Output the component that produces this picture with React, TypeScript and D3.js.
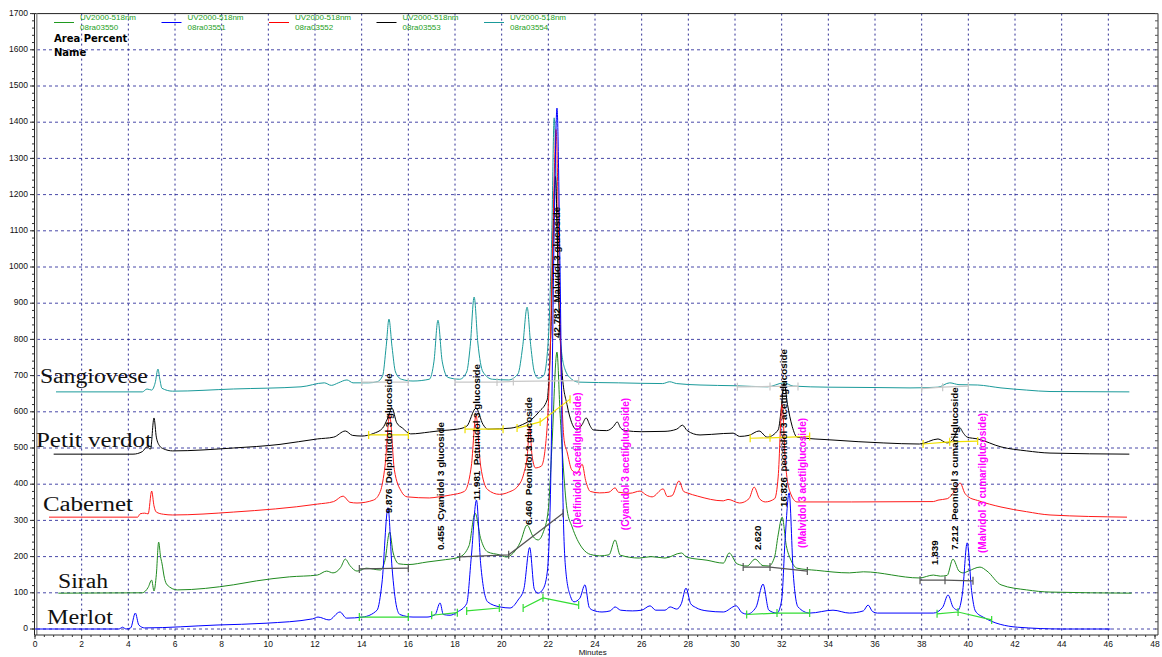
import React from "react";
import * as d3 from "d3";

type Pt = [number, number];

// ---------- DATA ----------
const xTicks = [0, 2, 4, 6, 8, 10, 12, 14, 16, 18, 20, 22, 24, 26, 28, 30, 32, 34, 36, 38, 40, 42, 44, 46, 48];
const yTicks = [0, 100, 200, 300, 400, 500, 600, 700, 800, 900, 1000, 1100, 1200, 1300, 1400, 1500, 1600, 1700];

const merlot: Pt[] = [
  [0, 0], [3.6, 0], [3.75, 5], [3.9, 0], [4.1, 3], [4.3, 44], [4.45, 11], [4.7, 3], [7.8, 11], [9.9, 16],
  [11.9, 28], [12.13, 33], [12.6, 25], [13.07, 47], [13.35, 30], [14.05, 33], [14.66, 52], [14.87, 127],
  [15.13, 335], [15.3, 171], [15.5, 60], [15.64, 40], [16.2, 33], [16.8, 33], [17.15, 40], [17.36, 72],
  [17.5, 40], [17.79, 38], [18.1, 47], [18.5, 70], [18.7, 200], [18.92, 356], [19.1, 180], [19.4, 75],
  [19.93, 61], [20.36, 58], [20.7, 80], [20.95, 110], [21.2, 225], [21.4, 110], [21.56, 99], [21.77, 110],
  [21.95, 155], [22.1, 400], [22.25, 1100], [22.37, 1439], [22.5, 1000], [22.63, 350], [22.75, 160],
  [22.95, 90], [23.1, 75], [23.35, 85], [23.57, 122], [23.75, 60], [23.9, 52], [24.3, 47], [24.65, 50],
  [24.86, 61], [25.1, 52], [25.6, 50], [26.0, 52], [26.36, 64], [26.6, 52], [27.0, 52], [27.22, 61],
  [27.5, 55], [27.7, 70], [27.9, 113], [28.1, 70], [28.3, 60], [28.8, 50], [29.5, 47], [30.05, 64],
  [30.3, 45], [30.52, 41], [30.9, 60], [31.2, 124], [31.45, 52], [31.8, 44], [32.0, 80], [32.15, 250],
  [32.32, 376], [32.5, 150], [32.7, 61], [33.2, 44], [34.2, 52], [34.9, 44], [35.5, 50], [35.7, 66],
  [35.9, 48], [36.1, 44], [38.5, 44], [38.9, 60], [39.13, 94], [39.35, 60], [39.56, 52], [39.75, 100],
  [39.95, 238], [40.15, 100], [40.3, 50], [40.63, 33], [42.1, 5], [44.06, 0], [46.1, 0],
];

const sirah: Pt[] = [
  [1.0, 99], [4.6, 100], [4.85, 115], [5.0, 135], [5.1, 105], [5.2, 150], [5.3, 240], [5.38, 200],
  [5.44, 182], [5.55, 140], [5.66, 122], [6.1, 108], [8.5, 122], [9.5, 133], [10.9, 144], [12.1, 149],
  [12.5, 160], [12.77, 155], [13.1, 170], [13.3, 193], [13.5, 175], [13.8, 160], [14.2, 168], [14.8, 163],
  [15.0, 190], [15.2, 268], [15.35, 210], [15.6, 180], [16.0, 178], [16.8, 185], [17.4, 190], [18.2, 199],
  [18.6, 230], [18.86, 320], [19.1, 250], [19.4, 213], [19.9, 205], [20.2, 199], [20.5, 210], [20.8, 240],
  [21.09, 287], [21.35, 255], [21.56, 246], [21.77, 265], [22.0, 330], [22.15, 500], [22.37, 765],
  [22.5, 600], [22.63, 459], [22.8, 330], [23.02, 282], [23.45, 224], [23.8, 206], [24.2, 202], [24.6, 205],
  [24.86, 246], [25.08, 204], [25.9, 196], [26.4, 200], [27.0, 196], [27.7, 210], [27.95, 198], [28.8, 190],
  [29.5, 182], [29.75, 210], [30.09, 180], [30.52, 174], [30.86, 193], [31.2, 175], [31.45, 174],
  [31.7, 200], [31.85, 260], [32.02, 309], [32.2, 230], [32.4, 190], [32.66, 168], [33.5, 162], [34.9, 155],
  [35.5, 158], [37.9, 141], [38.5, 149], [38.8, 146], [39.09, 148], [39.34, 193], [39.6, 160], [39.78, 155],
  [40.0, 160], [40.5, 171], [40.8, 160], [41.4, 122], [42.5, 108], [43.5, 102], [47.0, 99],
];

const cabernet: Pt[] = [
  [0.6, 309], [4.4, 309], [4.5, 318], [4.7, 320], [4.85, 318], [5.0, 381], [5.1, 340], [5.2, 323],
  [5.5, 317], [5.9, 315], [8.5, 323], [12.1, 345], [12.8, 352], [13.2, 367], [13.5, 350], [13.8, 348],
  [14.5, 356], [14.8, 380], [15.0, 450], [15.2, 590], [15.4, 440], [15.7, 380], [15.95, 365], [16.9, 362],
  [17.3, 365], [17.8, 370], [18.4, 380], [18.7, 450], [18.9, 590], [19.1, 450], [19.4, 385], [19.9, 372],
  [20.3, 378], [20.7, 395], [20.95, 430], [21.1, 480], [21.2, 560], [21.3, 480], [21.45, 445], [21.7, 450],
  [21.9, 520], [22.05, 700], [22.2, 1100], [22.33, 1380], [22.45, 1050], [22.55, 707], [22.68, 520],
  [22.8, 490], [23.0, 440], [23.23, 430], [23.45, 455], [23.6, 410], [23.8, 380], [24.2, 376], [24.6, 378],
  [24.86, 390], [25.0, 378], [25.5, 375], [25.93, 381], [26.2, 370], [26.45, 365], [26.92, 387], [27.1, 366],
  [27.3, 368], [27.6, 409], [27.8, 380], [27.95, 376], [28.4, 367], [29.5, 354], [29.7, 358], [30.2, 348],
  [30.6, 360], [30.82, 392], [31.05, 360], [31.3, 351], [31.7, 360], [31.85, 420], [32.02, 620], [32.15, 470],
  [32.35, 380], [32.66, 351], [35.0, 351], [38.5, 352], [38.7, 356], [39.1, 360], [39.4, 380], [39.65, 403],
  [39.85, 375], [40.0, 365], [40.4, 355], [41.4, 337], [42.5, 324], [43.5, 315], [46.8, 309],
];

const petitVerdot: Pt[] = [
  [0.8, 483], [4.2, 483], [4.6, 490], [4.8, 503], [4.95, 497], [5.1, 583], [5.2, 530], [5.35, 505],
  [5.5, 498], [5.9, 492], [8.5, 500], [10.5, 510], [12.1, 525], [12.8, 530], [13.3, 547], [13.6, 535],
  [14.0, 533], [14.5, 540], [14.9, 555], [15.1, 580], [15.3, 610], [15.5, 570], [15.75, 555], [16.1, 539],
  [16.9, 544], [17.4, 548], [18.1, 552], [18.5, 560], [18.9, 610], [19.2, 565], [19.4, 552], [20.4, 555],
  [20.9, 565], [21.3, 580], [21.6, 600], [21.95, 633], [22.1, 800], [22.3, 1250], [22.45, 900], [22.6, 700],
  [22.8, 620], [23.0, 570], [23.23, 550], [23.45, 565], [23.62, 583], [23.8, 560], [23.92, 550], [24.5, 548],
  [24.8, 560], [24.95, 572], [25.1, 555], [25.3, 548], [26.0, 545], [27.0, 546], [27.5, 552], [27.75, 563],
  [27.95, 548], [28.5, 536], [29.5, 540], [29.92, 541], [30.2, 532], [30.6, 535], [31.03, 547], [31.38, 530],
  [31.85, 550], [32.0, 620], [32.1, 680], [32.25, 620], [32.45, 560], [32.66, 530], [34.2, 522], [36.35, 514],
  [37.9, 511], [38.7, 525], [39.09, 514], [39.4, 530], [39.6, 558], [39.8, 540], [39.95, 530], [40.4, 525],
  [41.4, 503], [42.5, 492], [43.5, 486], [46.9, 483],
];

const sangiovese: Pt[] = [
  [0.9, 655], [4.6, 655], [4.8, 663], [5.0, 660], [5.15, 680], [5.27, 718], [5.35, 690], [5.44, 665],
  [5.9, 657], [8.5, 663], [11.4, 669], [12.4, 680], [12.7, 673], [13.0, 680], [13.37, 688], [13.63, 680],
  [14.3, 680], [14.66, 683], [14.9, 700], [15.05, 780], [15.17, 856], [15.3, 780], [15.45, 710], [15.7, 690],
  [16.2, 685], [16.9, 690], [17.1, 740], [17.27, 853], [17.45, 740], [17.7, 695], [18.2, 690], [18.5, 710],
  [18.65, 780], [18.82, 917], [18.98, 790], [19.2, 710], [19.6, 690], [20.3, 688], [20.7, 705], [20.9, 780],
  [21.09, 889], [21.25, 780], [21.4, 710], [21.56, 693], [21.8, 700], [22.0, 800], [22.15, 1100],
  [22.25, 1412], [22.38, 1100], [22.52, 800], [22.7, 720], [23.0, 690], [23.3, 682], [25.0, 680],
  [26.9, 678], [27.2, 683], [27.5, 678], [28.5, 674], [30.0, 672], [31.4, 669], [32.1, 680], [32.5, 671],
  [34.0, 668], [36.0, 667], [37.5, 666], [38.7, 668], [39.2, 680], [39.6, 675], [40.4, 674], [41.4, 666],
  [42.5, 660], [43.5, 656], [46.9, 655],
];

// integration baselines (polylines with marks at each vertex)
const merlotBaselines: Pt[][] = [
  [[13.9, 33], [16.0, 33]],
  [[17.0, 38], [18.1, 45]],
  [[18.5, 50], [19.9, 58]],
  [[20.92, 58], [21.77, 86], [23.3, 66]],
  [[30.5, 40], [31.8, 44], [33.2, 44]],
  [[38.66, 42], [39.56, 47], [41.0, 25]],
];
const petitBaselines: Pt[][] = [
  [[14.3, 536], [16.0, 536]],
  [[18.43, 552], [20.06, 552]],
  [[20.66, 555], [21.65, 572], [22.93, 635]],
  [[30.65, 527], [31.5, 528], [33.2, 532]],
  [[38.06, 511], [39.2, 517], [40.4, 519]],
];
const sirahBaselines: Pt[][] = [
  [[13.9, 166], [16.0, 168]],
  [[18.2, 199], [20.3, 205], [22.63, 320]],
  [[30.35, 171], [31.5, 171], [33.1, 160]],
  [[37.93, 135], [39.0, 135], [40.2, 133]],
];
const sangioveseBaselines: Pt[][] = [
  [[14.0, 682], [16.0, 682]],
  [[18.0, 682], [19.8, 682], [20.5, 684], [23.3, 686]],
  [[30.1, 669], [31.5, 670], [32.7, 670]],
  [[38.0, 664], [38.9, 668], [40.0, 671]],
];

const peakTimes = [15.17, 17.36, 18.9, 21.13, 22.33, 30.95, 32.06, 38.56, 39.4];
const peakLabelBase = [320, 218, 356, 287, 804, 218, 337, 177, 218];
const peakLabels = [
  "9.876  Delphinidol 3 glucoside",
  "0.455  Cyanidol 3 glucoside",
  "11.981  Petunidol 3 glucoside",
  "6.460  Peonidol 3 glucoside",
  "42.782  Malvidol 3 glucoside",
  "2.620",
  "16.826  peonidol 3 acetilglucoside",
  "1.839",
  "7.212  Peonidol 3 cumarilglucoside",
];

const noteTimes = [23.23, 25.3, 32.9, 40.6];
const noteBase = [279, 273, 224, 210];
const noteLabels = [
  "(Delfinidol 3 acetilglucoside)",
  "(Cyanidol 3 acetilglucoside)",
  "(Malvidol 3 acetilglucoside)",
  "(Malvidol 3 cumarilglucoside)",
];

const wineNames = ["Sangiovese", "Petit verdot", "Cabernet", "Sirah", "Merlot"];
const wineT = [0.21, 0.04, 0.34, 0.99, 0.51];
const wineV = [680, 503, 326, 113, 14];
const wineWidth = [108, 116, 90, 50, 66];

const legendRuns = ["08ra03550", "08ra03551", "08ra03552", "08ra03553", "08ra03554"];
const legendDetector = "UV2000-518nm";
const legendColors = ["#1f9a1f", "#0000ff", "#ff0000", "#000000", "#1a9a9a"];

// ---------- LAYOUT ----------
const W = 1162;
const H = 657;
const x = d3.scaleLinear().domain([0, 48]).range([35, 1155]);
const y = d3.scaleLinear().domain([0, 1700]).range([629, 13.6]);
const LEFT = 35;
const RIGHT = 1158;
const TOP = y(1700);
const AXIS_Y = 635;

const line = d3
  .line<Pt>()
  .x((d) => x(d[0]))
  .y((d) => y(d[1]))
  .curve(d3.curveMonotoneX);
const poly = d3
  .line<Pt>()
  .x((d) => x(d[0]))
  .y((d) => y(d[1]));

const traces: { data: Pt[]; color: string }[] = [
  { data: sangiovese, color: "#1a9a9a" },
  { data: petitVerdot, color: "#000000" },
  { data: cabernet, color: "#ff1a1a" },
  { data: sirah, color: "#1f8a1f" },
  { data: merlot, color: "#0000ff" },
];

const baselineSets: { data: Pt[][]; color: string }[] = [
  { data: sangioveseBaselines, color: "#c8c8c8" },
  { data: petitBaselines, color: "#f0e000" },
  { data: sirahBaselines, color: "#555555" },
  { data: merlotBaselines, color: "#33dd33" },
];

export default function App() {
  const minorX = d3.range(0, 48.001, 0.4);
  const minorY = d3.range(0, 1700.001, 20);
  const gridX = xTicks.filter((t) => t > 0 && t < 48);
  const gridY = yTicks.filter((v) => v < 1700);
  const sans = "'Liberation Sans', Arial, sans-serif";

  return (
    <svg
      width={W}
      height={H}
      style={{ position: "absolute", left: 0, top: 0, background: "#fff" }}
      xmlns="http://www.w3.org/2000/svg"
    >
      <rect x={0} y={0} width={W} height={H} fill="#fff" />

      {/* grid */}
      {gridY.map((v) => (
        <line key={"gy" + v} x1={LEFT + 2} x2={RIGHT} y1={y(v)} y2={y(v)} stroke="#2a2a9a" strokeWidth={1} strokeDasharray="3,3" opacity={0.85} />
      ))}
      {gridX.map((t) => (
        <line key={"gx" + t} x1={x(t)} x2={x(t)} y1={TOP} y2={y(0) + 2} stroke="#1a1a8a" strokeWidth={1} strokeDasharray="2,3" opacity={0.9} />
      ))}

      {/* frame */}
      <line x1={LEFT} x2={RIGHT} y1={TOP} y2={TOP} stroke="#222" strokeWidth={1} />
      <line x1={RIGHT} x2={RIGHT} y1={TOP} y2={AXIS_Y} stroke="#777" strokeWidth={1.5} />
      <line x1={LEFT - 0.5} x2={LEFT - 0.5} y1={TOP} y2={AXIS_Y} stroke="#222" strokeWidth={1} />
      <line x1={LEFT + 1.8} x2={LEFT + 1.8} y1={TOP} y2={AXIS_Y} stroke="#999" strokeWidth={1.5} />
      <line x1={LEFT} x2={RIGHT} y1={AXIS_Y} y2={AXIS_Y} stroke="#333" strokeWidth={1} />

      {/* y ticks */}
      {minorY.map((v) => (
        <line key={"my" + v} x1={LEFT - 3} x2={LEFT - 0.5} y1={y(v)} y2={y(v)} stroke="#333" strokeWidth={1} />
      ))}
      {minorY.map((v) => (
        <line key={"myr" + v} x1={RIGHT - 3} x2={RIGHT} y1={y(v)} y2={y(v)} stroke="#555" strokeWidth={1} />
      ))}
      {yTicks.map((v) => (
        <g key={"yt" + v}>
          <line x1={LEFT - 5} x2={LEFT} y1={y(v)} y2={y(v)} stroke="#333" strokeWidth={1} />
          <text x={LEFT - 7} y={y(v)} textAnchor="end" dominantBaseline="middle" fontFamily={sans} fontSize={8.5} fill="#111">
            {v}
          </text>
        </g>
      ))}

      {/* x ticks */}
      {minorX.map((t) => (
        <line key={"mx" + t} x1={x(t)} x2={x(t)} y1={AXIS_Y} y2={AXIS_Y + 2} stroke="#333" strokeWidth={1} />
      ))}
      {xTicks.map((t) => (
        <g key={"xt" + t}>
          <line x1={x(t)} x2={x(t)} y1={AXIS_Y} y2={AXIS_Y + 4} stroke="#333" strokeWidth={1} />
          <text x={x(t)} y={AXIS_Y + 12} textAnchor="middle" fontFamily={sans} fontSize={8.5} fill="#111">
            {t}
          </text>
        </g>
      ))}
      <text x={x(23.9)} y={AXIS_Y + 20} textAnchor="middle" fontFamily={sans} fontSize={8} fill="#111">
        Minutes
      </text>

      {/* traces */}
      {traces.map((tr, i) => (
        <path key={"tr" + i} d={line(tr.data) || ""} fill="none" stroke={tr.color} strokeWidth={1} strokeLinejoin="round" />
      ))}

      {/* integration baselines */}
      {baselineSets.map((set, i) => (
        <g key={"bs" + i}>
          {set.data.map((seg, j) => (
            <g key={"seg" + j}>
              <path d={poly(seg) || ""} fill="none" stroke={set.color} strokeWidth={1.2} />
              {seg.map((p, k) => (
                <line key={"tk" + k} x1={x(p[0])} x2={x(p[0])} y1={y(p[1]) - 4} y2={y(p[1]) + 4} stroke={set.color} strokeWidth={1.2} />
              ))}
            </g>
          ))}
        </g>
      ))}

      {/* peak labels */}
      {peakLabels.map((s, i) => (
        <text
          key={"pl" + i}
          transform={`translate(${x(peakTimes[i])},${y(peakLabelBase[i])}) rotate(-90)`}
          textAnchor="start"
          dominantBaseline="central"
          fontFamily={sans}
          fontSize={9.8}
          fontWeight="bold"
          fill="#000"
          style={{ whiteSpace: "pre" }}
        >
          {s}
        </text>
      ))}
      {noteLabels.map((s, i) => (
        <text
          key={"nl" + i}
          transform={`translate(${x(noteTimes[i])},${y(noteBase[i])}) rotate(-90)`}
          textAnchor="start"
          dominantBaseline="central"
          fontFamily={sans}
          fontSize={10}
          fontWeight="bold"
          fill="#ff00ff"
        >
          {s}
        </text>
      ))}

      {/* wine names */}
      {wineNames.map((s, i) => (
        <text
          key={"wn" + i}
          x={x(wineT[i])}
          y={y(wineV[i])}
          fontFamily="'Liberation Serif', 'Times New Roman', serif"
          fontSize={20}
          fill="#111"
          textLength={wineWidth[i]}
          lengthAdjust="spacingAndGlyphs"
        >
          {s}
        </text>
      ))}

      {/* legend */}
      {legendRuns.map((r, i) => {
        const lx = 54 + i * 107.5;
        return (
          <g key={"lg" + i}>
            <line x1={lx} x2={lx + 20} y1={22.5} y2={22.5} stroke={legendColors[i]} strokeWidth={1} />
            <text x={lx + 26} y={20} fontFamily={sans} fontSize={8} fill="#1ea01e">
              {legendDetector}
            </text>
            <text x={lx + 26} y={29.5} fontFamily={sans} fontSize={8} fill="#1ea01e">
              {r}
            </text>
          </g>
        );
      })}
      <text x={54} y={42} fontFamily="'DejaVu Sans', sans-serif" fontWeight="bold" fontSize={10} fill="#000">
        Area Percent
      </text>
      <text x={54} y={56} fontFamily="'DejaVu Sans', sans-serif" fontWeight="bold" fontSize={10} fill="#000">
        Name
      </text>
    </svg>
  );
}
